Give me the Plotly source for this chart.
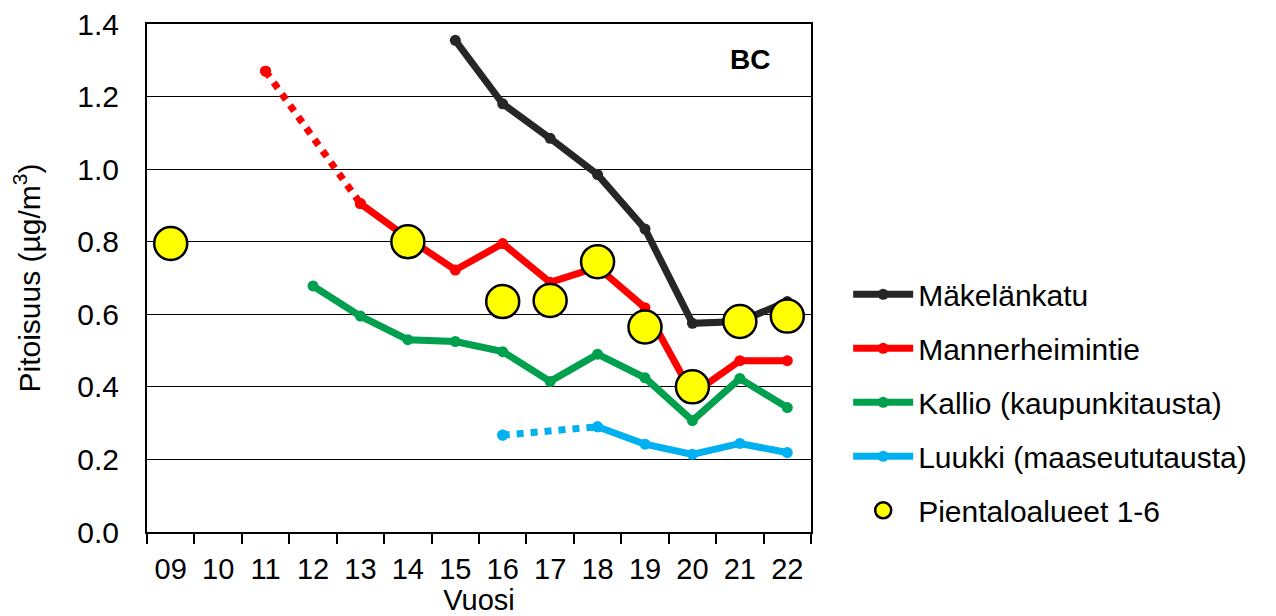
import plotly.graph_objects as go

years = ["09", "10", "11", "12", "13", "14", "15", "16", "17", "18", "19", "20", "21", "22"]

makelankatu = [None, None, None, None, None, None, 1.355, 1.18, 1.085, 0.985, 0.835, 0.575, 0.58, 0.635]
mannerheimintie = [None, None, 1.27, None, 0.905, 0.81, 0.722, 0.795, 0.688, 0.73, 0.618, 0.38, 0.472, 0.472]
kallio = [None, None, None, 0.678, 0.595, 0.53, 0.525, 0.497, 0.415, 0.49, 0.425, 0.307, 0.423, 0.343]
luukki = [None, None, None, None, None, None, None, 0.267, None, 0.29, 0.242, 0.214, 0.244, 0.219]
pientalo = [0.795, None, None, None, None, 0.80, None, 0.635, 0.638, 0.745, 0.565, 0.40, 0.58, 0.595]

names = ["Mäkelänkatu", "Mannerheimintie", "Kallio (kaupunkitausta)", "Luukki (maaseututausta)", "Pientaloalueet 1-6"]
colors = ["#262626", "#FF0000", "#00A04E", "#00B0F0"]

FONT = "Liberation Sans, Arial, sans-serif"
FS = 30
LW = 7
MS = 11

fig = go.Figure()

# dotted connectors across missing years
def dotted(series, i0, i1, color, group):
    fig.add_trace(go.Scatter(
        x=[years[i0], years[i1]], y=[series[i0], series[i1]],
        mode="lines+markers", line=dict(color=color, width=LW, dash="dot"),
        marker=dict(size=MS, color=color), showlegend=False,
        legendgroup=group, hoverinfo="skip"))

dotted(mannerheimintie, 2, 4, colors[1], "g1")
dotted(luukki, 7, 9, colors[3], "g3")

series = [makelankatu, mannerheimintie, kallio, luukki]
for k, s in enumerate(series):
    fig.add_trace(go.Scatter(
        x=years, y=s, name=names[k], mode="lines+markers",
        line=dict(color=colors[k], width=LW),
        marker=dict(size=MS, color=colors[k]),
        connectgaps=False, legendgroup="g%d" % k))

fig.add_trace(go.Scatter(
    x=years, y=pientalo, name=names[4], mode="markers",
    marker=dict(size=33, color="#FFFF00", line=dict(color="black", width=2.5)),
    legendgroup="g4"))

fig.add_annotation(text="<b>BC</b>", x=0.908, y=0.93, xref="paper", yref="paper",
                   xanchor="center", yanchor="middle",
                   showarrow=False, font=dict(size=28, color="black", family=FONT))

# page body has an 8px margin, so the figure is offset by 8px
fig.update_layout(
    width=1268, height=608,
    margin=dict(l=139, r=465, t=16, b=84, autoexpand=False),
    paper_bgcolor="white", plot_bgcolor="white",
    font=dict(family=FONT, size=FS, color="black"),
    legend=dict(x=1.056, y=0.519, xanchor="left", yanchor="top",
                font=dict(size=FS, family=FONT), itemwidth=60,
                tracegroupgap=12, bgcolor="rgba(0,0,0,0)"),
    xaxis=dict(type="category", categoryorder="array", categoryarray=years,
               range=[-0.5, 13.5], automargin=False,
               tickson="boundaries", ticks="outside", ticklen=10, tickwidth=2,
               tickcolor="black", showgrid=False, ticklabelstandoff=10,
               showline=True, linecolor="black", linewidth=2, mirror=True,
               title=dict(text="Vuosi", standoff=7, font=dict(size=29)),
               tickfont=dict(size=29)),
    yaxis=dict(range=[0, 1.4], dtick=0.2, tickformat=".1f", automargin=False,
               showgrid=True, gridcolor="black", gridwidth=1,
               ticks="", ticklabelstandoff=20, ticklabeloverflow="allow",
               showline=True, linecolor="black", linewidth=2, mirror=True,
               zeroline=False,
               title=dict(text="Pitoisuus (µg/m<sup>3</sup>)", standoff=28, font=dict(size=FS)),
               tickfont=dict(size=FS)),
)

fig.write_html("out.html")
